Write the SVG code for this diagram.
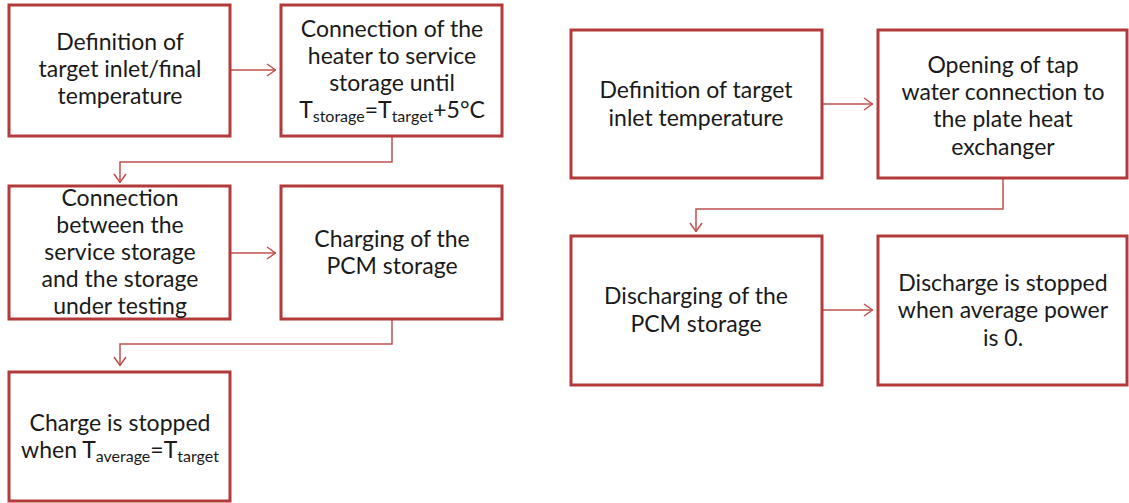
<svg xmlns="http://www.w3.org/2000/svg" width="1129" height="503" viewBox="0 0 1129 503">
<style>
.box{fill:#ffffff;stroke:#b23a3a;stroke-width:3}
.lbl{font-family:Lato,"Open Sans","Liberation Sans",sans-serif;font-size:23px;fill:#1a1a1a;text-anchor:middle}
.sub{font-size:16px}
.con{fill:none;stroke:#c0504d;stroke-width:1.5}
</style>
<defs>
<marker id="ah" viewBox="0 0 10 14" refX="10" refY="7" markerWidth="10" markerHeight="14" markerUnits="userSpaceOnUse" orient="auto">
<path d="M1,1 L9.5,7 L1,13" fill="none" stroke="#c0504d" stroke-width="1.5"/>
</marker>
</defs>
<rect width="1129" height="503" fill="#ffffff"/>
<g id="connectors">
<path class="con" d="M230,70 H276" marker-end="url(#ah)"/>
<path class="con" d="M392,136 V162 H120 V183" marker-end="url(#ah)"/>
<path class="con" d="M230,253 H276" marker-end="url(#ah)"/>
<path class="con" d="M392,319 V344 H120 V366" marker-end="url(#ah)"/>
<path class="con" d="M822,104 H873" marker-end="url(#ah)"/>
<path class="con" d="M1003,178 V209 H696 V232" marker-end="url(#ah)"/>
<path class="con" d="M822,310 H873" marker-end="url(#ah)"/>
</g>
<g id="nodeA">
<rect class="box" x="9" y="5" width="221" height="131"/>
<text class="lbl" x="120" y="50">Definition of</text>
<text class="lbl" x="120" y="77">target inlet/final</text>
<text class="lbl" x="120" y="104">temperature</text>
</g>
<g id="nodeB">
<rect class="box" x="281" y="5" width="221" height="131"/>
<text class="lbl" x="392" y="37">Connection of the</text>
<text class="lbl" x="392" y="64">heater to service</text>
<text class="lbl" x="392" y="91">storage until</text>
<text class="lbl" x="392" y="118">T<tspan class="sub" dy="4">storage</tspan><tspan dy="-4">=T</tspan><tspan class="sub" dy="4">target</tspan><tspan dy="-4">+5°C</tspan></text>
</g>
<g id="nodeC">
<rect class="box" x="9" y="186" width="221" height="133"/>
<text class="lbl" x="120" y="206">Connection</text>
<text class="lbl" x="120" y="233">between the</text>
<text class="lbl" x="120" y="260">service storage</text>
<text class="lbl" x="120" y="287">and the storage</text>
<text class="lbl" x="120" y="314">under testing</text>
</g>
<g id="nodeD">
<rect class="box" x="281" y="186" width="221" height="133"/>
<text class="lbl" x="392" y="247">Charging of the</text>
<text class="lbl" x="392" y="274">PCM storage</text>
</g>
<g id="nodeE">
<rect class="box" x="9" y="372" width="221" height="129"/>
<text class="lbl" x="120" y="431">Charge is stopped</text>
<text class="lbl" x="120" y="458">when T<tspan class="sub" dy="4">average</tspan><tspan dy="-4">=T</tspan><tspan class="sub" dy="4">target</tspan></text>
</g>
<g id="nodeF">
<rect class="box" x="571" y="30" width="251" height="148"/>
<text class="lbl" x="696" y="98">Definition of target</text>
<text class="lbl" x="696" y="126">inlet temperature</text>
</g>
<g id="nodeG">
<rect class="box" x="878" y="30" width="249" height="148"/>
<text class="lbl" x="1003" y="73">Opening of tap</text>
<text class="lbl" x="1003" y="100">water connection to</text>
<text class="lbl" x="1003" y="127">the plate heat</text>
<text class="lbl" x="1003" y="155">exchanger</text>
</g>
<g id="nodeH">
<rect class="box" x="571" y="236" width="251" height="149"/>
<text class="lbl" x="696" y="304">Discharging of the</text>
<text class="lbl" x="696" y="332">PCM storage</text>
</g>
<g id="nodeI">
<rect class="box" x="878" y="236" width="249" height="149"/>
<text class="lbl" x="1003" y="291">Discharge is stopped</text>
<text class="lbl" x="1003" y="318">when average power</text>
<text class="lbl" x="1003" y="346">is 0.</text>
</g>
</svg>
